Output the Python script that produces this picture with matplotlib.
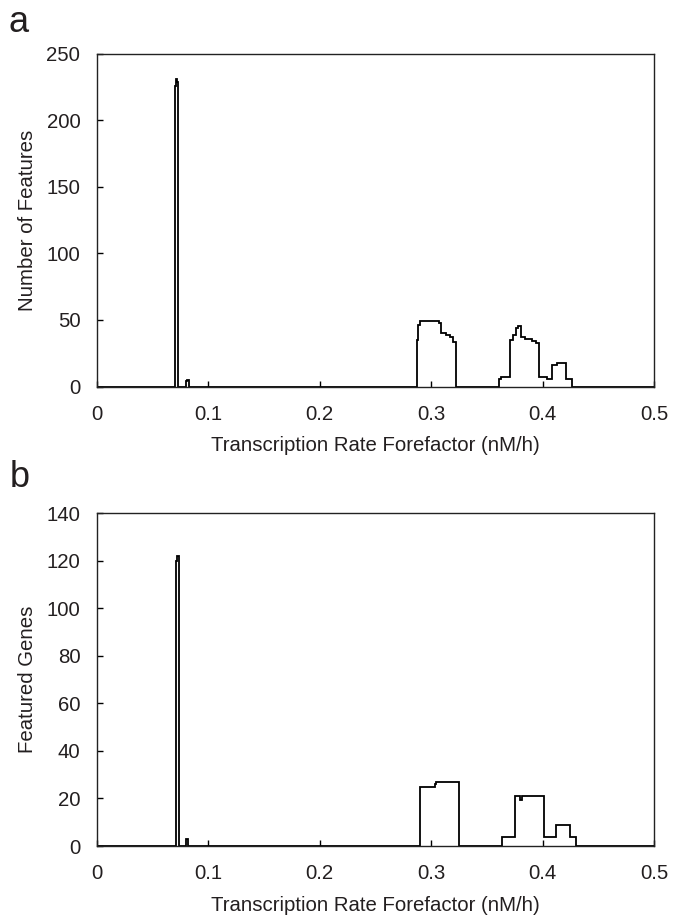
import matplotlib
matplotlib.use("Agg")
import matplotlib.pyplot as plt
import numpy as np

plt.rcParams['font.family'] = ['Liberation Sans', 'DejaVu Sans']

# step curves: value holds from edge[i] to edge[i+1]
# panel a - number of features
EdgesA = [0.0, 0.0703, 0.0712, 0.0720, 0.0728, 0.0795, 0.0812, 0.0822,
          0.2873, 0.2885, 0.2900, 0.3047, 0.3070, 0.3090, 0.3137, 0.3166, 0.3196, 0.3220,
          0.3608, 0.3629, 0.3708, 0.3732, 0.3762, 0.3783, 0.3805, 0.3843, 0.3903, 0.3942,
          0.3966, 0.4038, 0.4083, 0.4128, 0.4211, 0.4262, 0.5]
ValuesA = [0, 226, 231, 229, 0, 4, 5, 0,
           35, 46, 49.5, 49, 48, 40, 38.6, 37, 33.6, 0,
           5.4, 7, 35, 38.6, 43.7, 45.6, 37.4, 35.7, 34.4, 32.4,
           7, 5.4, 16, 17.4, 5.8, 0]

# panel b - featured genes
EdgesB = [0.0, 0.0706, 0.0714, 0.0735, 0.0800, 0.0815,
          0.2897, 0.3035, 0.3047, 0.3250,
          0.3640, 0.3750, 0.3795, 0.3815, 0.4010, 0.4117, 0.4250, 0.4300, 0.5]
ValuesB = [0, 120, 122, 0, 3, 0,
           25, 26, 27, 0,
           4, 21, 19.5, 21, 4, 9, 4, 0]

XTicks = [0, 0.1, 0.2, 0.3, 0.4, 0.5]
XTickLabels = ["0", "0.1", "0.2", "0.3", "0.4", "0.5"]
YTicksA = [0, 50, 100, 150, 200, 250]
YTicksB = [0, 20, 40, 60, 80, 100, 120, 140]

TXT = '#231f20'
FS = 14.7

fig = plt.figure(figsize=(6.73, 9.16), dpi=100)
axA = fig.add_axes([0.1441, 0.578, 0.8276, 0.3635])
axB = fig.add_axes([0.1441, 0.0764, 0.8276, 0.3635])


def drawPanel(ax, edges, values, yticks, ylabel):
    ax.stairs(values, edges, color='black', lw=1.3, baseline=None)
    ax.set_xlim(0, 0.5)
    ax.set_ylim(0, yticks[-1])
    ax.set_xticks(XTicks)
    ax.set_xticklabels(XTickLabels)
    ax.set_yticks(yticks)
    ax.tick_params(direction='in', length=4, width=1, labelsize=FS,
                   labelcolor=TXT, top=False, right=False)
    ax.tick_params(axis='x', pad=13)
    ax.tick_params(axis='y', pad=12)
    ax.set_xlabel("Transcription Rate Forefactor (nM/h)", fontsize=FS, color=TXT, labelpad=9)
    ax.set_ylabel(ylabel, fontsize=FS, color=TXT, labelpad=7)
    for s in ax.spines.values():
        s.set_linewidth(1.0)
        s.set_color('#222222')


drawPanel(axA, EdgesA, ValuesA, YTicksA, "Number of Features")
drawPanel(axB, EdgesB, ValuesB, YTicksB, "Featured Genes")

fig.text(0.012, 0.965, "a", fontsize=26, color=TXT)
fig.text(0.015, 0.468, "b", fontsize=26, color=TXT)

fig.savefig("out.png", dpi=100)
